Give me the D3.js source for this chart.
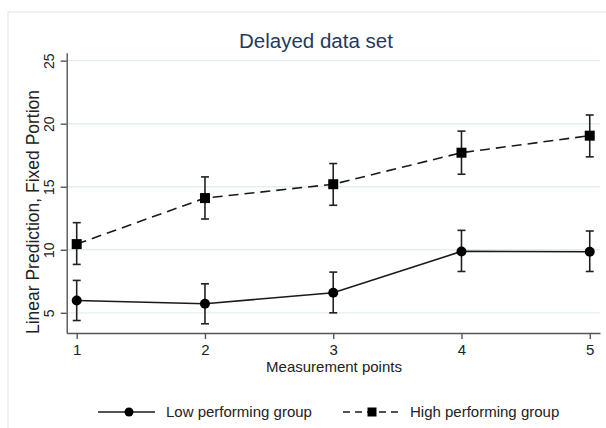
<!DOCTYPE html>
<html>
<head>
  <script src='https://d3js.org/d3.v7.min.js'></script>
  <style>
    body { margin: 0; background: #fff; }
    text { font-family: 'Liberation Sans', Arial, sans-serif; fill: #222; }
  </style>
</head>
<body>
  <svg id="canvas" width="606" height="428"></svg>
  <script>
    // values
    const points = [1, 2, 3, 4, 5];
    const lowMean = [5.98, 5.72, 6.59, 9.87, 9.84];
    const lowLo = [4.39, 4.13, 5.0, 8.28, 8.28];
    const lowHi = [7.57, 7.3, 8.23, 11.54, 11.49];
    const highMean = [10.45, 14.1, 15.2, 17.7, 19.05];
    const highLo = [8.84, 12.44, 13.53, 15.99, 17.37];
    const highHi = [12.15, 15.78, 16.84, 19.41, 20.69];
    const yTicks = [5, 10, 15, 20, 25];
    const groups = ['Low performing group', 'High performing group'];

    const svg = d3.select('svg#canvas');

    // outer plot-region frame
    svg.append('rect')
      .attr('x', 8).attr('y', 12)
      .attr('width', 620).attr('height', 440)
      .attr('fill', 'none')
      .attr('stroke', '#e3eaed')
      .attr('stroke-width', 1.2);

    const xScale = d3.scaleLinear().domain([0.922, 5.08]).range([66.7, 600]);
    const yScale = d3.scaleLinear().domain([3.4, 25.63]).range([333, 52.7]);

    // gridlines
    svg.append('g')
      .selectAll('line')
      .data(yTicks)
      .join('line')
      .attr('x1', 67).attr('x2', 600)
      .attr('y1', d => yScale(d)).attr('y2', d => yScale(d))
      .attr('stroke', '#e4eef0')
      .attr('stroke-width', 1.4);

    // y axis
    const yAxis = svg.append('g')
      .attr('transform', 'translate(66.7,0)')
      .call(d3.axisLeft(yScale).tickValues(yTicks).tickSize(6).tickSizeOuter(0));
    yAxis.select('.domain').attr('stroke', '#555').attr('stroke-width', 1.4);
    yAxis.selectAll('.tick line').attr('stroke', '#555').attr('stroke-width', 1.4);
    yAxis.selectAll('.tick text')
      .attr('x', 0).attr('y', 0).attr('dy', 0)
      .attr('transform', 'translate(-13,0) rotate(-90)')
      .attr('text-anchor', 'middle')
      .style('font-size', '14px')
      .style('font-family', "'Liberation Sans', Arial, sans-serif")
      .attr('fill', '#222');

    // x axis
    const xAxis = svg.append('g')
      .attr('transform', 'translate(0,333)')
      .call(d3.axisBottom(xScale).tickValues(points).tickSize(6).tickSizeOuter(0).tickFormat(d3.format('d')));
    xAxis.select('.domain').attr('stroke', '#555').attr('stroke-width', 1.4);
    xAxis.selectAll('.tick line').attr('stroke', '#555').attr('stroke-width', 1.4);
    xAxis.selectAll('.tick text')
      .attr('y', 11)
      .style('font-size', '15px')
      .style('font-family', "'Liberation Sans', Arial, sans-serif")
      .attr('fill', '#222');

    // title
    svg.append('text')
      .attr('x', 316).attr('y', 48)
      .attr('text-anchor', 'middle')
      .style('font-size', '20.5px')
      .style('fill', '#1f3a5f')
      .text('Delayed data set');

    // axis titles
    svg.append('text')
      .attr('x', 334).attr('y', 372)
      .attr('text-anchor', 'middle')
      .style('font-size', '15px')
      .text('Measurement points');

    svg.append('text')
      .attr('transform', 'translate(39,212) rotate(-90)')
      .attr('text-anchor', 'middle')
      .style('font-size', '17.5px')
      .text('Linear Prediction, Fixed Portion');

    const lineGen = d3.line()
      .x((d, i) => xScale(points[i]))
      .y(d => yScale(d));

    const series = [
      { mean: lowMean, lo: lowLo, hi: lowHi, dash: null, shape: 'circle' },
      { mean: highMean, lo: highLo, hi: highHi, dash: '10,6', shape: 'square' }
    ];

    series.forEach(s => {
      const g = svg.append('g');
      // error bars
      points.forEach((p, i) => {
        const x = xScale(p);
        g.append('line')
          .attr('x1', x).attr('x2', x)
          .attr('y1', yScale(s.lo[i])).attr('y2', yScale(s.hi[i]))
          .attr('stroke', '#222').attr('stroke-width', 1.6);
        [s.lo[i], s.hi[i]].forEach(v => {
          g.append('line')
            .attr('x1', x - 4).attr('x2', x + 4)
            .attr('y1', yScale(v)).attr('y2', yScale(v))
            .attr('stroke', '#222').attr('stroke-width', 1.6);
        });
      });
      // connecting line
      g.append('path')
        .attr('d', lineGen(s.mean))
        .attr('fill', 'none')
        .attr('stroke', '#1a1a1a')
        .attr('stroke-width', 1.6)
        .attr('stroke-dasharray', s.dash);
      // markers
      s.mean.forEach((v, i) => {
        if (s.shape === 'circle') {
          g.append('circle')
            .attr('cx', xScale(points[i])).attr('cy', yScale(v))
            .attr('r', 5).attr('fill', '#000');
        } else {
          g.append('rect')
            .attr('x', xScale(points[i]) - 5).attr('y', yScale(v) - 5)
            .attr('width', 10).attr('height', 10).attr('fill', '#000');
        }
      });
    });

    // legend
    const legendY = 412;
    const leg = svg.append('g');
    leg.append('line')
      .attr('x1', 98).attr('x2', 155).attr('y1', legendY).attr('y2', legendY)
      .attr('stroke', '#1a1a1a').attr('stroke-width', 1.5);
    leg.append('circle').attr('cx', 129).attr('cy', legendY).attr('r', 4.5).attr('fill', '#000');
    leg.append('text')
      .attr('x', 166).attr('y', legendY + 5)
      .style('font-size', '15px')
      .text(groups[0]);

    leg.append('line')
      .attr('x1', 343).attr('x2', 400).attr('y1', legendY).attr('y2', legendY)
      .attr('stroke', '#1a1a1a').attr('stroke-width', 1.5)
      .attr('stroke-dasharray', '7,5');
    leg.append('rect').attr('x', 367.5).attr('y', legendY - 4.5).attr('width', 9).attr('height', 9).attr('fill', '#000');
    leg.append('text')
      .attr('x', 410).attr('y', legendY + 5)
      .style('font-size', '15px')
      .text(groups[1]);
  </script>
</body>
</html>
